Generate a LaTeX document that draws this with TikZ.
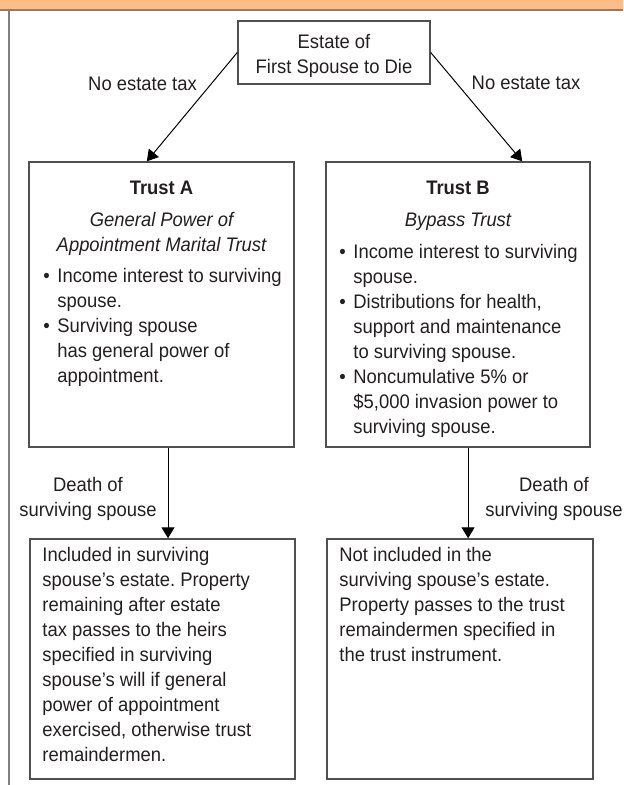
\documentclass[tikz,border=0pt]{standalone}
\usepackage{fontspec}
\setmainfont{Liberation Sans}[FakeStretch=0.94]
\usetikzlibrary{arrows.meta,calc}

\definecolor{bandorange}{HTML}{FBBE86}
\definecolor{framegray}{HTML}{808080}
\definecolor{boxgray}{HTML}{505050}
\definecolor{inkgray}{HTML}{231F20}

% stacked lines, first baseline is the node's base
\newcommand{\boxlines}[2][l]{\begin{tabular}[t]{@{}#1@{}}#2\end{tabular}}
\newcommand{\bul}{\makebox[7pt][l]{\textbullet}}

\tikzset{
  box/.style={draw=boxgray,line width=0.7pt,inner sep=0pt,rectangle},
  txt/.style={font=\fontsize{9.8}{12.5}\selectfont\frenchspacing,text=inkgray,inner sep=0pt},
  flow/.style={-{Triangle[length=5.5pt,width=6.5pt]},line width=0.5pt,draw=black}
}

\begin{document}
\begin{tikzpicture}[x=0.5pt,y=-0.5pt]
\useasboundingbox (0,0) rectangle (623,785);

% header band and left frame
\fill[bandorange] (0,0) rectangle (623,9.5);
\draw[framegray,line width=1pt] (0,10) -- (623,10);
\draw[framegray,line width=1pt] (8.5,10) -- (8.5,785);

% boxes
\node[box,minimum width=96pt,minimum height=31.5pt] (estate) at (334,52.5) {};
\node[box,minimum width=132.5pt,minimum height=142.5pt] (trustA) at (161.5,304.5) {};
\node[box,minimum width=132pt,minimum height=142.5pt] (trustB) at (458,304.5) {};
\node[box,minimum width=132.5pt,minimum height=120pt] (heirsA) at (162.5,659) {};
\node[box,minimum width=133pt,minimum height=120pt] (heirsB) at (460,659) {};

% box texts
\node[txt,anchor=base] (estateText) at (334,49) {\boxlines[c]{Estate of\\First Spouse to Die}};

\node[txt,anchor=base] (titleA) at (161.5,195) {\bfseries Trust A};
\node[txt,anchor=base] (kindA) at (161.5,227) {\itshape\boxlines[c]{General Power of\\Appointment Marital Trust}};
\node[txt,anchor=base west] (termsA) at (43,283) {\begin{tabular}[t]{@{}l@{}l@{}}
\bul & Income interest to surviving\\
     & spouse.\\
\bul & Surviving spouse\\
     & has general power of\\
     & appointment.
\end{tabular}};

\node[txt,anchor=base] (titleB) at (458,195) {\bfseries Trust B};
\node[txt,anchor=base] (kindB) at (458,227) {\itshape Bypass Trust};
\node[txt,anchor=base west] (termsB) at (339,259) {\begin{tabular}[t]{@{}l@{}l@{}}
\bul & Income interest to surviving\\
     & spouse.\\
\bul & Distributions for health,\\
     & support and maintenance\\
     & to surviving spouse.\\
\bul & Noncumulative 5\% or\\
     & \$5,000 invasion power to\\
     & surviving spouse.
\end{tabular}};

\node[txt,anchor=base west] (resultA) at (42,561) {\boxlines{Included in surviving\\
spouse’s estate. Property\\
remaining after estate\\
tax passes to the heirs\\
specified in surviving\\
spouse’s will if general\\
power of appointment\\
exercised, otherwise trust\\
remaindermen.}};
\node[txt,anchor=base west] (resultB) at (339,561) {\boxlines{Not included in the\\
surviving spouse’s estate.\\
Property passes to the trust\\
remaindermen specified in\\
the trust instrument.}};

% connectors
\draw[flow] (estate.west) -- ($(trustA.north west)!0.445!(trustA.north east)$);
\draw[flow] (estate.east) -- ($(trustB.north west)!0.742!(trustB.north east)$);
\coordinate (dA) at ($(trustA.south west)!0.5245!(trustA.south east)$);
\coordinate (dB) at ($(trustB.south west)!0.538!(trustB.south east)$);
\draw[flow] (dA) -- (dA |- heirsA.north);
\draw[flow] (dB) -- (dB |- heirsB.north);

% connector labels
\node[txt,anchor=base] (taxA) at (142.5,91) {No estate tax};
\node[txt,anchor=base] (taxB) at (526,90) {No estate tax};
\node[txt,anchor=base] (deathA) at (88,491) {\boxlines[c]{Death of\\surviving spouse}};
\node[txt,anchor=base] (deathB) at (554,491) {\boxlines[c]{Death of\\surviving spouse}};

\end{tikzpicture}
\end{document}
